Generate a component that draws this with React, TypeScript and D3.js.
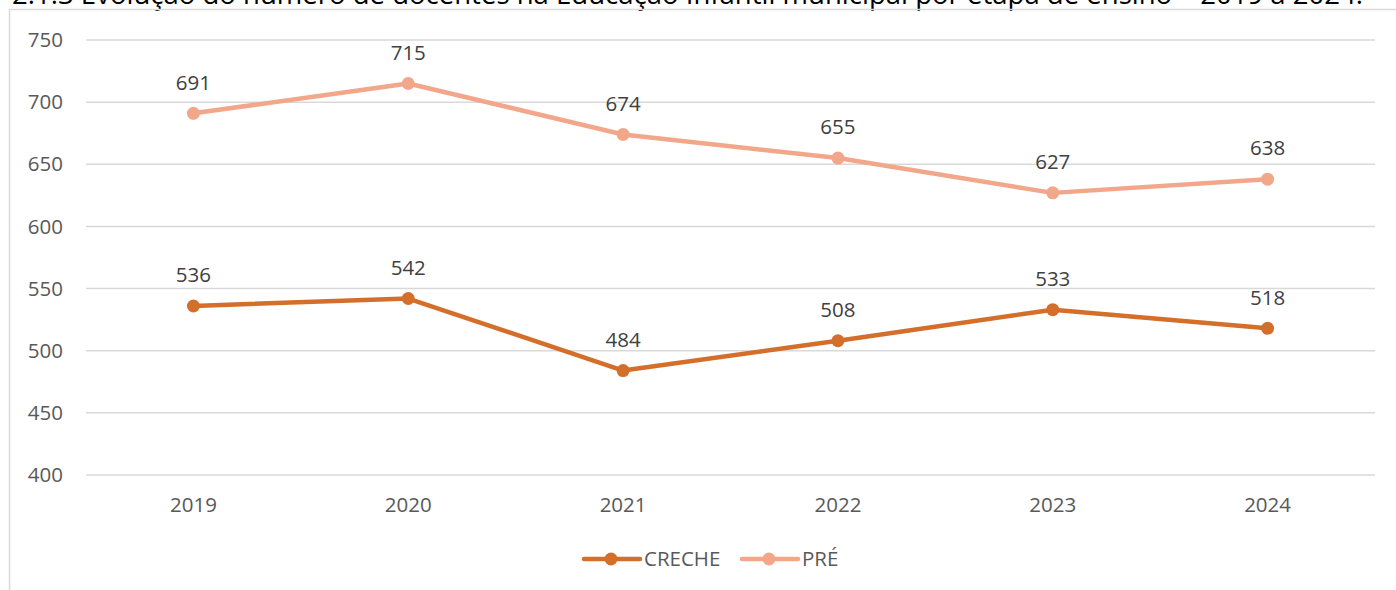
import React from "react";
import * as d3 from "d3";

const title = "2.1.3 Evolução do número de docentes na Educação Infantil municipal por etapa de ensino – 2019 a 2024.";
const years = ["2019", "2020", "2021", "2022", "2023", "2024"];
const creche = [536, 542, 484, 508, 533, 518];
const pre = [691, 715, 674, 655, 627, 638];
const yTicks = [400, 450, 500, 550, 600, 650, 700, 750];
const seriesNames = ["CRECHE", "PRÉ"];
const colors = ["#D46E2B", "#F2A68A"];

export default function App() {
  const W = 1396, H = 590;
  const left = 86, right = 1375, top = 40, bottom = 475;
  const x = d3.scaleBand<string>().domain(years).range([left, right]);
  const y = d3.scaleLinear().domain([400, 750]).range([bottom, top]);
  const line = d3.line<number>().x((_, i) => (x(years[i]) as number) + x.bandwidth() / 2).y((d) => y(d));
  const series = [creche, pre];
  const font = "'Open Sans', 'Noto Sans', sans-serif";
  return (
    <svg width={W} height={H} style={{ position: "absolute", left: 0, top: 0 }} fontFamily={font}>
      <rect x={0} y={0} width={W} height={H} fill="#fff" />
      <text x={12} y={4} fontSize={27.5} fill="#000" textLength={1351} lengthAdjust="spacingAndGlyphs">{title}</text>
      <path d={`M9.5,${H} V9.5 H${W}`} fill="none" stroke="#d9d9d9" strokeWidth={1.5} />
      {yTicks.map((t) => (
        <g key={t}>
          <line x1={left} x2={right} y1={y(t)} y2={y(t)} stroke="#d9d9d9" strokeWidth={1.5} />
          <text x={63} y={y(t)} dy="0.35em" textAnchor="end" fontSize={20.5} fill="#595959">{t}</text>
        </g>
      ))}
      {years.map((yr) => (
        <text key={yr} x={(x(yr) as number) + x.bandwidth() / 2} y={505} dy="0.35em" textAnchor="middle" fontSize={20.5} fill="#595959">{yr}</text>
      ))}
      {series.map((s, si) => (
        <g key={si}>
          <path d={line(s) || ""} fill="none" stroke={colors[si]} strokeWidth={4.5} strokeLinejoin="round" />
          {s.map((v, i) => {
            const cx = (x(years[i]) as number) + x.bandwidth() / 2;
            return (
              <g key={i}>
                <circle cx={cx} cy={y(v)} r={6.5} fill={colors[si]} />
                <text x={cx} y={y(v) - 31} dy="0.35em" textAnchor="middle" fontSize={20.5} fill="#404040">{v}</text>
              </g>
            );
          })}
        </g>
      ))}
      {seriesNames.map((n, i) => {
        const lx = i === 0 ? 584 : 742;
        return (
          <g key={n}>
            <line x1={lx} x2={lx + 56} y1={559} y2={559} stroke={colors[i]} strokeWidth={4.5} strokeLinecap="round" />
            <circle cx={lx + 27} cy={559} r={6.5} fill={colors[i]} />
            <text x={lx + 60} y={559} dy="0.35em" fontSize={20.5} fill="#595959">{n}</text>
          </g>
        );
      })}
    </svg>
  );
}
